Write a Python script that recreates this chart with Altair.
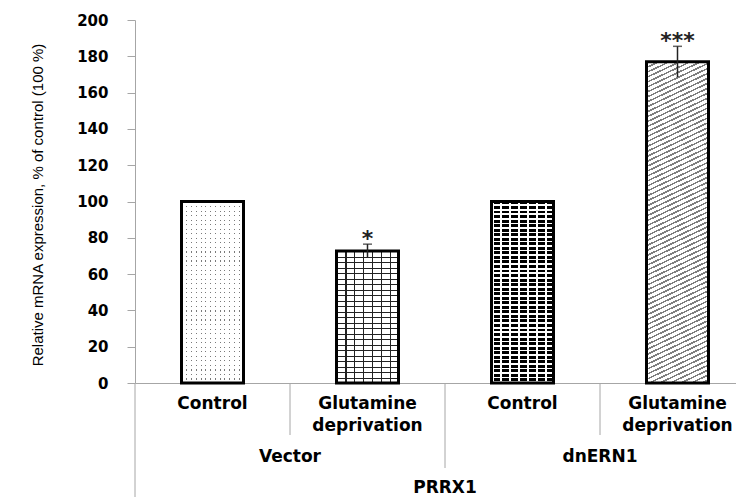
import altair as alt
import pandas as pd

# ---- data ----
groups = ["Vector", "Vector", "dnERN1", "dnERN1"]
conditions = ["Control", "Glutamine deprivation", "Control", "Glutamine deprivation"]
values = [100, 72.7, 100, 177]
errors = [0, 3.8, 0, 8.5]
stars = ["", "*", "", "***"]
gene = "PRRX1"
y_ticks = [0, 20, 40, 60, 80, 100, 120, 140, 160, 180, 200]
y_title = "Relative mRNA expression, % of control (100 %)"

n = len(values)
df = pd.DataFrame({
    "group": groups, "cond": conditions, "value": values, "err": errors,
    "star": stars, "idx": list(range(n)),
})
df["pos"] = df["idx"] + 0.5
df["lo"] = df["value"] - df["err"]
df["hi"] = df["value"] + df["err"]

# separators under the axis
sep_rows = [{"pos": 0.0, "kind": "edge"}]
for i in range(1, n):
    sep_rows.append({"pos": float(i), "kind": "cond" if groups[i] == groups[i - 1] else "group"})
sep = pd.DataFrame(sep_rows)

grp = df.groupby("group", sort=False)["pos"].mean().reset_index()
gene_df = pd.DataFrame({"label": [gene], "pos": [df["pos"].mean()]})

W, H = 601, 363
GRAY = "#a6a6a6"
LABEL_FONT = "DejaVu Sans"

xs = alt.Scale(domain=[0, n], range=[0, 620], padding=0, nice=False, zero=False)
ys = alt.Scale(domain=[0, 200], nice=False)

X_AXIS = alt.Axis(labels=False, ticks=False, grid=False, title=None,
                  domainColor=GRAY, domainWidth=1)
Y_AXIS = alt.Axis(values=y_ticks, tickCount=11, grid=False, domainColor=GRAY, tickColor=GRAY,
                  tickSize=8, labelFont=LABEL_FONT, labelFontWeight="bold",
                  labelFontSize=15, labelColor="black", labelPadding=19,
                  labelOverlap=False, labelBound=False,
                  title=y_title, titleFont="Liberation Sans",
                  titleFontSize=15, titleFontWeight="normal", titleColor="black",
                  titleX=-98, titleY=H / 2 + 3, titleAngle=-90, titleAlign="center",
                  titleBaseline="middle")


def X(field):
    return alt.X(field, scale=xs, axis=X_AXIS)


def Y(field):
    return alt.Y(field, scale=ys, axis=Y_AXIS)


def stripes(count, frac, on, off, x2, y2):
    stops = []
    for k in range(count):
        a = k / count
        b = (k + frac) / count
        c = (k + 1) / count
        stops += [
            {"offset": round(a, 5), "color": on},
            {"offset": round(b, 5), "color": on},
            {"offset": round(b, 5), "color": off},
            {"offset": round(c, 5), "color": off},
        ]
    return {"gradient": "linear", "x1": 0, "y1": 0, "x2": x2, "y2": y2, "stops": stops}


T = "rgba(255,255,255,0)"
patterns = {
    0: [stripes(40, 0.25, "#7a7a7a", "#ffffff", 0, 1), stripes(13, 0.22, T, "#ffffff", 1, 0)],
    1: [stripes(24, 0.2, "#222222", "#ffffff", 0, 1), stripes(7, 0.14, "#222222", T, 1, 0)],
    2: [stripes(40, 0.64, "#000000", "#ffffff", 0, 1), stripes(7, 0.24, "#ffffff", T, 1, 0)],
    3: [stripes(72, 0.35, "#7f7f7f", "#ffffff", 0.1, 1.1)],
}

base = alt.Chart(df)

layers = []
for k, fills in patterns.items():
    for f in fills:
        layers.append(
            base.transform_filter(alt.datum.idx == k)
            .mark_bar(size=62, fill=f, strokeWidth=0)
            .encode(x=X("pos:Q"), y=Y("value:Q"))
        )

outline = base.mark_bar(size=62, fill="transparent", stroke="black", strokeWidth=3).encode(
    x=X("pos:Q"), y=Y("value:Q"))

err_df = base.transform_filter(alt.datum.err > 0)
err_rule = err_df.mark_rule(color="#222222", strokeWidth=1.5).encode(
    x=X("pos:Q"), y=Y("lo:Q"), y2="hi:Q")
err_cap = err_df.mark_tick(orient="horizontal", size=9, thickness=1.5, color="#222222").encode(
    x=X("pos:Q"), y=Y("hi:Q"))
star_txt = err_df.mark_text(font=LABEL_FONT, fontSize=22, fontWeight="bold", color="#222222",
                            baseline="middle", dy=-5).encode(
    x=X("pos:Q"), y=Y("hi:Q"), text="star:N")

cond_txt = base.mark_text(font=LABEL_FONT, fontSize=17, fontWeight="bold", color="black",
                          baseline="top", lineBreak=" ", lineHeight=22).encode(
    x=X("pos:Q"), y=alt.value(H + 13), text="cond:N")

grp_txt = alt.Chart(grp).mark_text(font=LABEL_FONT, fontSize=17, fontWeight="bold",
                                   color="black", baseline="middle").encode(
    x=X("pos:Q"), y=alt.value(H + 74), text="group:N")

gene_txt = alt.Chart(gene_df).mark_text(font=LABEL_FONT, fontSize=17, fontWeight="bold",
                                        color="black", baseline="middle").encode(
    x=X("pos:Q"), y=alt.value(H + 105), text="label:N")

sep_base = alt.Chart(sep)
sep_cond = sep_base.transform_filter(alt.datum.kind == "cond").mark_rule(color=GRAY).encode(
    x=X("pos:Q"), y=alt.value(H), y2=alt.value(H + 52))
sep_group = sep_base.transform_filter(alt.datum.kind == "group").mark_rule(color=GRAY).encode(
    x=X("pos:Q"), y=alt.value(H), y2=alt.value(H + 85))
sep_edge = sep_base.transform_filter(alt.datum.kind == "edge").mark_rule(color=GRAY).encode(
    x=X("pos:Q"), y=alt.value(H), y2=alt.value(H + 130))

chart = alt.layer(
    *layers, outline, err_rule, err_cap, star_txt, cond_txt, grp_txt, gene_txt,
    sep_cond, sep_group, sep_edge,
).properties(
    width=W, height=H,
    autosize=alt.AutoSizeParams(type="none"),
    padding={"left": 127, "top": 12, "right": 0, "bottom": 114},
    background="white",
).configure_view(stroke=None)

chart.save("out.html", embed_options={"renderer": "svg", "actions": False})
